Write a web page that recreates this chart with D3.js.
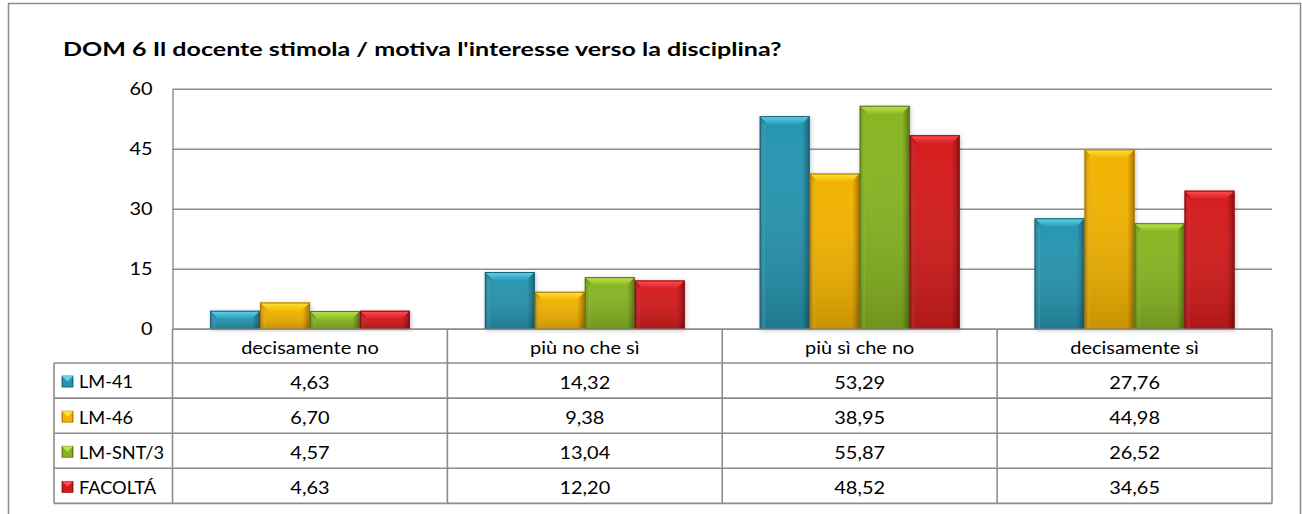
<!DOCTYPE html>
<html>
<head>
<meta charset="utf-8">
<script src="https://cdn.jsdelivr.net/npm/d3@7"></script>
<style>
  body { margin: 0; background: #fff; }
  svg { display: block; font-family: Lato, "Open Sans", sans-serif; }
</style>
</head>
<body>
<svg id="chart" width="1302" height="514"></svg>
<script>
// Data
const categories = ['decisamente no', 'più no che sì', 'più sì che no', 'decisamente sì'];
const seriesNames = ['LM-41', 'LM-46', 'LM-SNT/3', 'FACOLTÁ'];
const lm41 = [4.63, 14.32, 53.29, 27.76];
const lm46 = [6.70, 9.38, 38.95, 44.98];
const lmSnt3 = [4.57, 13.04, 55.87, 26.52];
const facolta = [4.63, 12.20, 48.52, 34.65];
const yTicks = [0, 15, 30, 45, 60];
const title = "DOM 6 Il docente stimola / motiva l'interesse verso la disciplina?";

const seriesValues = [lm41, lm46, lmSnt3, facolta];

// base / light / dark for the bevelled bars
const palette = [
    { base: '#2795b0', light: '#62d4ee', dark: '#1a6074' },
    { base: '#f3b300', light: '#ffe33a', dark: '#a87400' },
    { base: '#87b522', light: '#bde64c', dark: '#55780f' },
    { base: '#d51a1e', light: '#ff5252', dark: '#8a0d10' }
];

const svg = d3.select('#chart');
const lineColor = '#8c8c8c';

const plotLeft = 172.5, plotRight = 1272, plotTop = 89.3, plotBottom = 329.3;
const legendLeft = 54;
const headerH = 33.7, rowH = 35.1;

// the original picture is stretched sideways, so text is too
const textSize = 17.5, stretch = 1.14;

const fmt = d3.formatLocale({ decimal: ',', thousands: '.', grouping: [3], currency: ['', ''] }).format('.2f');

// outer frame
svg.append('rect')
    .attr('x', 8.5).attr('y', 3.5)
    .attr('width', 1292).attr('height', 530)
    .attr('fill', 'none')
    .attr('stroke', '#8a8a8a')
    .attr('stroke-width', 1.5);

// title
svg.append('text')
    .attr('transform', 'translate(63,56) scale(1.32,1)')
    .attr('font-size', 19)
    .attr('font-weight', 'bold')
    .attr('fill', '#000')
    .text(title);

// scales
const x0 = d3.scaleBand().domain(categories).range([plotLeft, plotRight]).paddingInner(0).paddingOuter(0);
const x1 = d3.scaleBand().domain(seriesNames)
    .range([0, x0.bandwidth()])
    .paddingInner(0)
    .paddingOuter(0.75);
const y = d3.scaleLinear().domain([0, 60]).range([plotBottom, plotTop]);

// gradients
const defs = svg.append('defs');
palette.forEach((c, i) => {
    const g = defs.append('linearGradient').attr('id', 'body' + i)
        .attr('x1', 0).attr('x2', 1).attr('y1', 0).attr('y2', 0);
    g.append('stop').attr('offset', '0%').attr('stop-color', c.dark);
    g.append('stop').attr('offset', '12%').attr('stop-color', c.base);
    g.append('stop').attr('offset', '85%').attr('stop-color', c.base);
    g.append('stop').attr('offset', '100%').attr('stop-color', c.dark);

    const v = defs.append('linearGradient').attr('id', 'shade' + i)
        .attr('x1', 0).attr('x2', 0).attr('y1', 0).attr('y2', 1);
    v.append('stop').attr('offset', '0%').attr('stop-color', '#fff').attr('stop-opacity', 0);
    v.append('stop').attr('offset', '100%').attr('stop-color', '#000').attr('stop-opacity', 0.18);

    const t = defs.append('linearGradient').attr('id', 'top' + i)
        .attr('x1', 0).attr('x2', 0).attr('y1', 0).attr('y2', 1);
    t.append('stop').attr('offset', '0%').attr('stop-color', c.light);
    t.append('stop').attr('offset', '100%').attr('stop-color', c.base);
});
const shadow = defs.append('filter').attr('id', 'shadow')
    .attr('x', '-20%').attr('y', '-10%').attr('width', '140%').attr('height', '120%');
shadow.append('feDropShadow')
    .attr('dx', 1).attr('dy', 1).attr('stdDeviation', 2)
    .attr('flood-color', '#000').attr('flood-opacity', 0.25);

// gridlines
svg.append('g')
    .selectAll('line')
    .data(yTicks)
    .join('line')
    .attr('x1', plotLeft).attr('x2', plotRight)
    .attr('y1', d => y(d)).attr('y2', d => y(d))
    .attr('stroke', lineColor)
    .attr('stroke-width', 1.4);

// y axis
const yAxis = svg.append('g')
    .attr('transform', `translate(${plotLeft},0)`)
    .call(d3.axisLeft(y).tickValues(yTicks).tickSize(0));
yAxis.select('.domain').attr('stroke', lineColor).attr('stroke-width', 1.4);
yAxis.selectAll('text')
    .attr('x', -20 / stretch)
    .attr('transform', `scale(${stretch},1)`)
    .attr('font-family', 'Lato, sans-serif')
    .attr('font-size', textSize)
    .attr('fill', '#000');

// bars
const bars = svg.append('g');
categories.forEach((cat, ci) => {
    seriesNames.forEach((s, si) => {
        const v = seriesValues[si][ci];
        const bx = x0(cat) + x1(s);
        const bw = x1.bandwidth();
        const by = y(v);
        const bh = y(0) - y(v);
        const b = Math.min(9, bh / 2);
        const g = bars.append('g');
        g.append('rect')
            .attr('x', bx).attr('y', by).attr('width', bw).attr('height', bh)
            .attr('fill', `url(#body${si})`)
            .attr('filter', 'url(#shadow)');
        g.append('rect')
            .attr('x', bx).attr('y', by).attr('width', bw).attr('height', bh)
            .attr('fill', `url(#shade${si})`);
        // top bevel
        g.append('polygon')
            .attr('points', [[bx, by], [bx + bw, by], [bx + bw - b, by + b], [bx + b, by + b]].join(' '))
            .attr('fill', `url(#top${si})`);
        // left bevel
        g.append('polygon')
            .attr('points', [[bx, by], [bx + b * 0.6, by + b], [bx + b * 0.6, by + bh], [bx, by + bh]].join(' '))
            .attr('fill', palette[si].light).attr('fill-opacity', 0.25);
        g.append('rect')
            .attr('x', bx + 0.5).attr('y', by + 0.5).attr('width', bw - 1).attr('height', bh - 1)
            .attr('fill', 'none')
            .attr('stroke', palette[si].dark)
            .attr('stroke-width', 1);
    });
});

// data table
const table = svg.append('g');
const rowTop = i => plotBottom + headerH + i * rowH;
const tableBottom = rowTop(seriesNames.length);

// horizontal table lines
table.selectAll('line.h')
    .data(d3.range(seriesNames.length + 1))
    .join('line')
    .attr('x1', legendLeft).attr('x2', plotRight)
    .attr('y1', d => rowTop(d)).attr('y2', d => rowTop(d))
    .attr('stroke', lineColor).attr('stroke-width', 1.6);
// x axis line = top of the header row
table.append('line')
    .attr('x1', plotLeft).attr('x2', plotRight)
    .attr('y1', plotBottom).attr('y2', plotBottom)
    .attr('stroke', lineColor).attr('stroke-width', 1.6);

// vertical table lines
const vx = categories.map(c => x0(c)).concat([plotRight]);
table.selectAll('line.v')
    .data(vx)
    .join('line')
    .attr('x1', d => d).attr('x2', d => d)
    .attr('y1', plotBottom).attr('y2', tableBottom)
    .attr('stroke', lineColor).attr('stroke-width', 1.6);
table.append('line')
    .attr('x1', legendLeft).attr('x2', legendLeft)
    .attr('y1', rowTop(0)).attr('y2', tableBottom)
    .attr('stroke', lineColor).attr('stroke-width', 1.6);

// category header
table.selectAll('text.cat')
    .data(categories)
    .join('text')
    .attr('transform', d => `translate(${x0(d) + x0.bandwidth() / 2},${plotBottom + headerH / 2 + 1}) scale(${stretch},1)`)
    .attr('text-anchor', 'middle')
    .attr('dominant-baseline', 'central')
    .attr('font-size', textSize)
    .attr('fill', '#000')
    .text(d => d);

// rows
seriesNames.forEach((s, si) => {
    const cy = rowTop(si) + rowH / 2 + 1;
    table.append('rect')
        .attr('x', 62).attr('y', cy - 5.5)
        .attr('width', 11).attr('height', 11)
        .attr('fill', `url(#body${si})`)
        .attr('stroke', palette[si].dark).attr('stroke-width', 0.8);
    table.append('polygon')
        .attr('points', [[62, cy - 5.5], [73, cy - 5.5], [67.5, cy]].join(' '))
        .attr('fill', palette[si].light);
    table.append('text')
        .attr('transform', `translate(79,${cy}) scale(1.04,1)`)
        .attr('dominant-baseline', 'central')
        .attr('font-size', textSize)
        .attr('fill', '#000')
        .text(s);
    table.selectAll(null)
        .data(categories)
        .join('text')
        .attr('transform', d => `translate(${x0(d) + x0.bandwidth() / 2},${cy}) scale(${stretch},1)`)
        .attr('text-anchor', 'middle')
        .attr('dominant-baseline', 'central')
        .attr('font-size', textSize)
        .attr('fill', '#000')
        .text((d, ci) => fmt(seriesValues[si][ci]));
});
</script>
</body>
</html>
